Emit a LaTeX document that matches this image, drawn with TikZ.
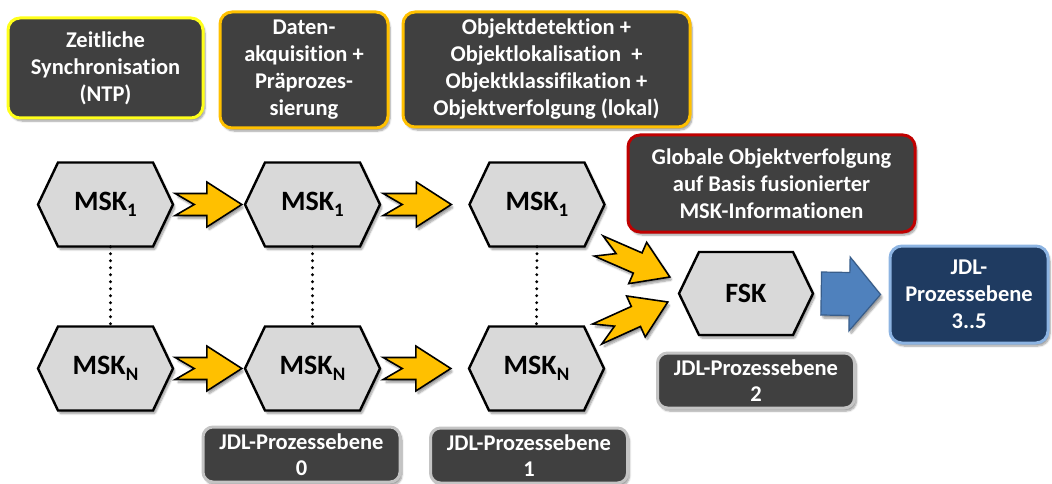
\documentclass[tikz,border=0pt]{standalone}
\usepackage{fontspec}
\setmainfont{Carlito}[Ligatures=NoCommon]
\usetikzlibrary{calc,shadows.blur}

\definecolor{boxfill}{HTML}{404040}
\definecolor{hexgray}{HTML}{D9D9D9}
\definecolor{arrowgold}{HTML}{FFC000}
\definecolor{lineyellow}{HTML}{FFFF1A}
\definecolor{lineorange}{HTML}{FFC000}
\definecolor{linered}{HTML}{C00000}
\definecolor{linegray}{HTML}{C4C4C4}
\definecolor{navyfill}{HTML}{1F3B61}
\definecolor{navyline}{HTML}{8DB4E2}
\definecolor{bluefill}{HTML}{4F81BD}
\definecolor{blueline}{HTML}{385D8A}

% subscript index for the sensor names
\newcommand\hexidx[1]{\raisebox{-6pt}{\fontsize{19pt}{19pt}\selectfont #1}}

% hexagonal sensor node: name, centre, label, half width, half height
\newcommand\sensorhex[5]{%
  \path[hexshape] ($(#2)+(-#4,0)$) -- ++(20,-#5) -- ++(2*#4-40,0)
     -- ++(20,#5) -- ++(-20,#5) -- ++(-2*#4+40,0) -- cycle;
  \node[hextext, minimum width=2*#4 pt, minimum height=2*#5 pt] (#1) at (#2) {#3};}

% filled block arrow between two points:
% #4 half body width, #5 half head width, #6 head length, #7 tail notch depth
\newcommand\fatarrow[7][]{%
  \path[#1] let \p1=(#2), \p2=(#3),
      \n1={atan2(\y2-\y1,\x2-\x1)}, \n2={veclen(\x2-\x1,\y2-\y1)} in
    ($(\p1)+(\n1+90:#4)$) -- ++(\n1:\n2-#6) -- ++(\n1+90:#5-#4) -- (\p2)
    -- ++($(\n1+180:#6)+(\n1-90:#5)$) -- ++(\n1+90:#5-#4)
    -- ++(\n1+180:\n2-#6) -- ($(\p1)+(\n1:#7)$) -- cycle;}

\tikzset{
  softshadow/.style={blur shadow={shadow xshift=2pt, shadow yshift=-3pt,
      shadow blur steps=6, shadow blur extra rounding=1pt, shadow opacity=40}},
  darkbox/.style={rounded corners=12pt, fill=boxfill, line width=3pt,
      text=white, align=center, inner sep=0pt, softshadow,
      font=\fontsize{22.5pt}{27pt}\selectfont\bfseries},
  levelbox/.style={darkbox, rounded corners=10pt, draw=linegray,
      minimum width=197pt, minimum height=55pt,
      font=\fontsize{22.5pt}{26pt}\selectfont\bfseries},
  hexshape/.style={draw=black, line width=2.4pt, line join=miter,
      fill=hexgray, softshadow},
  hextext/.style={inner sep=0pt, font=\fontsize{28pt}{30pt}\selectfont\bfseries},
  yarrow/.style={fill=arrowgold, draw=black, line width=1.6pt,
      line join=miter, softshadow},
  barrow/.style={fill=bluefill, draw=blueline, line width=1.2pt,
      line join=miter, softshadow},
  dotline/.style={line width=3.2pt, line cap=round, dash pattern=on 0pt off 7pt}
}

\begin{document}
\begin{tikzpicture}[x=1pt, y=-1pt]
\useasboundingbox (0,0) rectangle (1052,484);

% task boxes along the top
\node[darkbox, draw=lineyellow, minimum width=195pt, minimum height=100pt]
  (sync) at (105.5,68) {Zeitliche\\Synchronisation\\(NTP)};
\node[darkbox, draw=lineorange, minimum width=168pt, minimum height=116pt]
  (prep) at (304,70) {Daten-\\akquisition +\\Präprozes-\\sierung};
\node[darkbox, draw=lineorange, minimum width=287pt, minimum height=115pt]
  (detect) at (546.5,69.5)
  {Objektdetektion +\\Objektlokalisation\ \ +\\Objektklassifikation +\\Objektverfolgung (lokal)};
\node[darkbox, draw=linered, minimum width=287pt, minimum height=97pt]
  (global) at (771.5,183.5)
  {Globale Objektverfolgung\\auf Basis fusionierter\\MSK-Informationen};

% sensor chains
\sensorhex{m11}{105.5,204.5}{MSK\hexidx{1}}{67.5}{42}
\sensorhex{m12}{312.5,204.5}{MSK\hexidx{1}}{67.5}{42}
\sensorhex{m13}{537,204.5}{MSK\hexidx{1}}{67.5}{42}
\sensorhex{mn1}{105.5,368.5}{MSK\hexidx{N}}{67.5}{42}
\sensorhex{mn2}{312.5,368.5}{MSK\hexidx{N}}{67.5}{42}
\sensorhex{mn3}{536.5,368.5}{MSK\hexidx{N}}{67.5}{42}
\sensorhex{fsk}{746,293.5}{FSK}{67}{41.5}

% JDL level boxes
\node[darkbox, draw=navyline, fill=navyfill, minimum width=158pt,
  minimum height=97pt] (jdl35) at (969,294.5) {JDL-\\Prozessebene\\3..5};
\node[levelbox] (jdl2) at (756,380.5) {JDL-Prozessebene\\2};
\node[levelbox] (jdl0) at (301.5,454.5) {JDL-Prozessebene\\0};
\node[levelbox] (jdl1) at (529,455.5) {JDL-Prozessebene\\1};

% dotted links between first and last sensor
\draw[dotline] ([xshift=5pt]m11.south) -- ([xshift=5pt]mn1.north);
\draw[dotline] (m12.south) -- (mn2.north);
\draw[dotline] (m13.south) -- (mn3.north);

% processing arrows
\fatarrow[yarrow]{[xshift=2pt]m11.east}{[xshift=-3pt]m12.west}{11pt}{22.5pt}{35pt}{19pt}
\fatarrow[yarrow]{[xshift=3pt]m12.east}{[xshift=-18pt]m13.west}{11pt}{22.5pt}{35pt}{19pt}
\fatarrow[yarrow]{[xshift=2pt]mn1.east}{[xshift=-3pt]mn2.west}{11pt}{22.5pt}{35pt}{19pt}
\fatarrow[yarrow]{[xshift=3pt]mn2.east}{[xshift=-18pt]mn3.west}{11pt}{22.5pt}{35pt}{19pt}
\fatarrow[yarrow]{[shift={(-6,41.5)}]m13.east}{[shift={(-9,-16.5)}]fsk.west}{11pt}{22.5pt}{35pt}{19pt}
\fatarrow[yarrow]{[shift={(-7,-34.5)}]mn3.east}{[shift={(-11,8.5)}]fsk.west}{11pt}{22.5pt}{35pt}{19pt}
\fatarrow[barrow]{[xshift=8pt]fsk.east}{[xshift=-8pt]jdl35.west}{21.5pt}{37pt}{31pt}{0pt}
\end{tikzpicture}
\end{document}
